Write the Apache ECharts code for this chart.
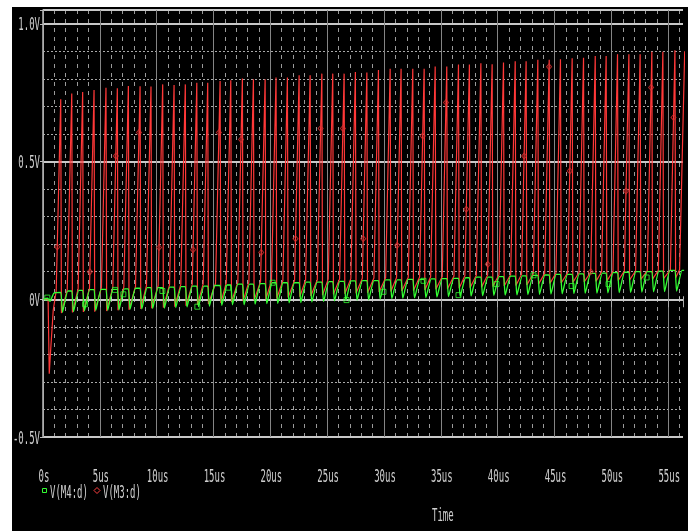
<!DOCTYPE html>
<html lang="en">
<head>
<meta charset="utf-8">
<title>V(M4:d) / V(M3:d) transient</title>
<script src="https://cdn.jsdelivr.net/npm/echarts@6.0.0/dist/echarts.min.js"></script>
<style>
  html, body { margin: 0; padding: 0; background: #fff; }
  #main { position: absolute; left: 12px; top: 7px; width: 676px; height: 524px; background: #000; }
</style>
</head>
<body>
<div id="main"></div>
<script>
// tick labels
const xTicks = [0, 5, 10, 15, 20, 25, 30, 35, 40, 45, 50, 55];
const xTickLabels = ['0s', '5us', '10us', '15us', '20us', '25us', '30us', '35us', '40us', '45us', '50us', '55us'];
const yTicks = [-0.5, 0, 0.5, 1.0];
const yTickLabels = ['-0.5V', '0V', '0.5V', '1.0V'];
const seriesNames = ['V(M4:d)', 'V(M3:d)'];

// time of each V(M3:d) spike top, us
const peakT = [1.56, 2.53, 3.49, 4.49, 5.54, 6.54, 7.51, 8.54, 9.50, 10.53, 11.53, 12.52, 13.53, 14.49,
  15.58, 16.52, 17.54, 18.51, 19.54, 20.50, 21.50, 22.53, 23.50, 24.53, 25.49, 26.49, 27.48, 28.49,
  29.51, 30.54, 31.50, 32.53, 33.53, 34.50, 35.52, 36.55, 37.51, 38.52, 39.51, 40.51, 41.54, 42.50,
  43.53, 44.53, 45.52, 46.55, 47.55, 48.58, 49.54, 50.54, 51.54, 52.53, 53.56, 54.53, 55.59];
// V(M3:d) spike tops, V
const redPeak = [0.726, 0.747, 0.752, 0.760, 0.768, 0.766, 0.774, 0.773, 0.772, 0.780, 0.778, 0.780, 0.786, 0.786,
  0.792, 0.795, 0.801, 0.799, 0.799, 0.805, 0.805, 0.813, 0.813, 0.819, 0.819, 0.819, 0.825, 0.823,
  0.832, 0.837, 0.837, 0.837, 0.837, 0.845, 0.845, 0.852, 0.852, 0.857, 0.853, 0.859, 0.864, 0.864,
  0.869, 0.869, 0.871, 0.875, 0.877, 0.883, 0.883, 0.889, 0.889, 0.889, 0.898, 0.898, 0.904];
// V(M3:d) where the rise starts / where the fall ends
const redHigh = [0.030, 0.035, 0.038, 0.040, 0.042, 0.043, 0.045, 0.047, 0.049, 0.050, 0.052, 0.054, 0.055, 0.056,
  0.058, 0.060, 0.062, 0.063, 0.065, 0.067, 0.068, 0.069, 0.070, 0.071, 0.073, 0.074, 0.075, 0.076,
  0.077, 0.078, 0.079, 0.080, 0.081, 0.082, 0.083, 0.084, 0.085, 0.087, 0.088, 0.089, 0.090, 0.091,
  0.093, 0.094, 0.095, 0.096, 0.097, 0.098, 0.100, 0.101, 0.102, 0.103, 0.104, 0.105, 0.107];
const redLow = [-0.050, -0.048, -0.046, -0.045, -0.043, -0.040, -0.038, -0.035, -0.033, -0.030, -0.027, -0.024, -0.020, -0.017,
  -0.014, -0.010, -0.007, -0.004, 0.000, 0.003, 0.006, 0.009, 0.012, 0.015, 0.018, 0.020, 0.022, 0.024,
  0.026, 0.028, 0.030, 0.032, 0.034, 0.036, 0.038, 0.040, 0.042, 0.044, 0.046, 0.048, 0.050, 0.052,
  0.055, 0.057, 0.059, 0.061, 0.063, 0.065, 0.067, 0.068, 0.070, 0.072, 0.073, 0.075, 0.077];
// V(M4:d) flat top and trough of each cycle
const greenTop = [0.025, 0.030, 0.032, 0.035, 0.036, 0.036, 0.038, 0.040, 0.042, 0.042, 0.044, 0.046, 0.048, 0.048,
  0.050, 0.052, 0.055, 0.055, 0.057, 0.060, 0.060, 0.060, 0.062, 0.062, 0.064, 0.065, 0.067, 0.068,
  0.068, 0.070, 0.070, 0.072, 0.072, 0.074, 0.075, 0.076, 0.078, 0.080, 0.080, 0.082, 0.084, 0.085,
  0.087, 0.088, 0.090, 0.090, 0.092, 0.094, 0.095, 0.097, 0.098, 0.100, 0.100, 0.102, 0.105];
const greenLow = [-0.047, -0.045, -0.042, -0.040, -0.040, -0.038, -0.036, -0.035, -0.033, -0.032, -0.030, -0.028, -0.027, -0.025,
  -0.022, -0.020, -0.020, -0.018, -0.016, -0.015, -0.013, -0.012, -0.010, -0.008, -0.006, -0.005, -0.003, -0.002,
  0.000, 0.002, 0.004, 0.005, 0.006, 0.008, 0.010, 0.010, 0.012, 0.013, 0.014, 0.015, 0.016, 0.017,
  0.018, 0.019, 0.020, 0.021, 0.022, 0.022, 0.023, 0.024, 0.025, 0.026, 0.027, 0.028, 0.030];

// start-up transient and the spike cut by the right edge
const redStart = [[0, 0], [0.45, 0], [0.55, -0.27], [0.68, -0.18], [0.9, -0.04]];
const redTail = [[56.0, 0.108], [56.45, 0.9]];
const greenStart = [[0, 0], [0.4, 0.004], [0.62, -0.008], [0.95, 0.022]];

// PSpice trace markers: green as [t, v], red as [spike index, v] on its rising edge
const greenMarks = [[0.38, 0.006], [3.7, -0.018], [6.34, 0.034], [7.07, 0.018], [10.5, 0.03], [13.58, -0.027],
  [16.3, 0.042], [20.2, 0.06], [26.7, -0.003], [29.95, 0.027], [33.47, 0.067], [36.55, 0.015], [39.9, 0.055],
  [43.15, 0.087], [46.5, 0.048], [49.75, 0.055], [53.1, 0.079]];
const redMarks = [[0, 0.19], [3, 0.10], [5, 0.52], [7, 0.605], [9, 0.188], [12, 0.18], [14, 0.605], [16, 0.58],
  [18, 0.17], [21, 0.22], [23, 0.62], [25, 0.62], [27, 0.22], [30, 0.196], [32, 0.593], [34, 0.714],
  [36, 0.327], [38, 0.127], [41, 0.52], [43, 0.844], [45, 0.466], [47, 0.10], [50, 0.393], [52, 0.769], [54, 0.66]];

const RISE = 0.4;   // rise time of a spike, us
const FALL = 0.06;  // fall time, us

const n = peakT.length;
const red = redStart.slice();
const green = greenStart.slice();
for (let k = 0; k < n; k++) {
  const T = peakT[k];
  red.push([T - RISE, redHigh[k]], [T, redPeak[k]], [T + FALL, redLow[k]]);
  const nextTop = greenTop[Math.min(k + 1, n - 1)];
  green.push([T, greenTop[k]], [T + 0.15, greenLow[k]], [T + 0.62, nextTop]);
}
red.push(...redTail);
green.push([56.4, greenTop[n - 1]]);

const redMarkPts = redMarks.map(([k, v]) => {
  const T = peakT[k];
  const f = (redPeak[k] - v) / (redPeak[k] - redHigh[k]);
  return [T - RISE * f, v];
});

const GREEN = '#33ff33';
const RED = '#ff3838';
const txt = '#cfcfcf';
const fade = 'rgba(0,0,0,0)';
// the plot uses a tall narrow pixel font: draw texts squeezed horizontally
const monoFont = "'DejaVu Sans Mono', 'Liberation Mono', monospace";
const SQUEEZE = 0.5;
function edgeColors(count, c) {
  const arr = [];
  for (let i = 0; i < count; i++) arr.push(c);
  arr.push(fade);
  return arr;
}
function label(x, y, text, align) {
  return {
    type: 'text', x: x, y: y, scaleX: SQUEEZE, silent: true,
    style: { text: text, x: 0, y: 0, fill: txt, fontSize: 18, fontFamily: monoFont,
             textAlign: align, textVerticalAlign: 'middle' }
  };
}

const chart = echarts.init(document.getElementById('main'));
chart.setOption({
  backgroundColor: '#000',
  animation: false,
  grid: { left: 31, right: 5, top: 3, bottom: 94 },
  xAxis: [
    {
      type: 'value', position: 'bottom', min: 0, max: 56.3, interval: 5, z: 1,
      axisLine: { lineStyle: { color: '#c8c8c8', width: 2 } },
      axisTick: { length: 8, lineStyle: { color: '#aaaaaa' } },
      axisLabel: { show: false },
      splitLine: { show: true, lineStyle: { color: edgeColors(12, '#858585'), width: 1 } }
    },
    {
      type: 'value', position: 'top', min: 0, max: 56.3, interval: 1,
      axisLine: { show: false },
      axisTick: { show: true, length: 3, lineStyle: { color: '#bbbbbb' } },
      axisLabel: { show: false },
      splitLine: { show: true, lineStyle: { color: edgeColors(57, '#9a9a9a'), width: 1, type: [4, 5] } }
    }
  ],
  yAxis: [
    {
      type: 'value', min: -0.5, max: 1.05, interval: 0.5, z: 1,
      axisLine: { show: true, lineStyle: { color: '#bbbbbb', width: 1.5 } },
      axisTick: { show: true, length: 3, lineStyle: { color: '#bbbbbb' } },
      axisLabel: { show: false },
      splitLine: { show: true, lineStyle: { color: '#c8c8c8', width: 2 } }
    },
    {
      type: 'value', min: -0.5, max: 1.05, interval: 0.1,
      axisLine: { show: false }, axisTick: { show: false }, axisLabel: { show: false },
      splitLine: { show: true, lineStyle: { color: edgeColors(16, '#a8a8a8'), width: 1, type: [2, 2] } }
    }
  ],
  series: [
    {
      name: seriesNames[0], type: 'line', data: green, showSymbol: false, symbol: 'none', z: 4,
      smooth: 0.15, lineStyle: { color: GREEN, width: 1.3 }, itemStyle: { color: GREEN }
    },
    {
      name: seriesNames[1], type: 'line', data: red, showSymbol: false, symbol: 'none', z: 3,
      lineStyle: { color: RED, width: 1.2 }, itemStyle: { color: RED }
    },
    {
      name: 'm4marks', type: 'scatter', data: greenMarks, symbol: 'rect', symbolSize: 5, z: 5,
      itemStyle: { color: fade, borderColor: GREEN, borderWidth: 1 }
    },
    {
      name: 'm3marks', type: 'scatter', data: redMarkPts, symbol: 'diamond', symbolSize: [5, 6], z: 5,
      itemStyle: { color: fade, borderColor: '#d83030', borderWidth: 1 }
    }
  ]
});

// tick labels, legend and axis title, placed through the axes' own scales
const texts = [];
xTicks.forEach((v, i) => {
  const px = chart.convertToPixel({ xAxisIndex: 0 }, v);
  texts.push(label(px + 1, 470, xTickLabels[i], 'center'));
});
yTicks.forEach((v, i) => {
  const py = chart.convertToPixel({ yAxisIndex: 0 }, v);
  texts.push(label(28, py + 2, yTickLabels[i], 'right'));
});
texts.push(label(420, 509, 'Time', 'left'));
texts.push({
  type: 'rect', silent: true, shape: { x: 30.5, y: 481.5, width: 4, height: 4 },
  style: { fill: fade, stroke: GREEN, lineWidth: 1 }
});
texts.push(label(38, 486, seriesNames[0], 'left'));
texts.push({
  type: 'polygon', silent: true, shape: { points: [[85, 480.5], [88, 483.5], [85, 486.5], [82, 483.5]] },
  style: { fill: fade, stroke: '#ff4040', lineWidth: 1 }
});
texts.push(label(91, 486, seriesNames[1], 'left'));
chart.setOption({ graphic: texts });
</script>
</body>
</html>
